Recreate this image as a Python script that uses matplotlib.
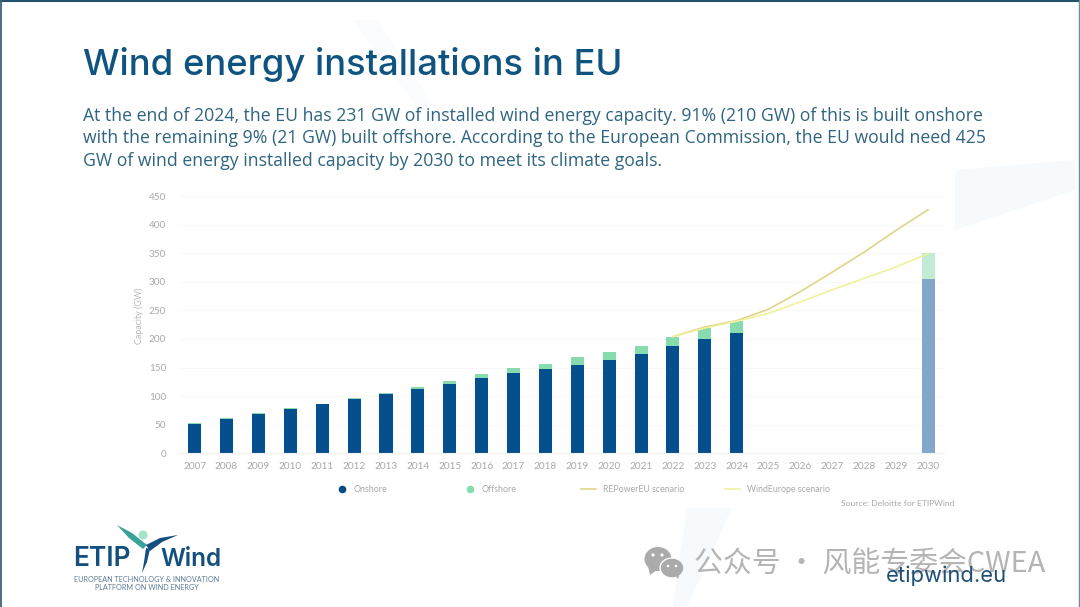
import matplotlib
matplotlib.use("Agg")
from matplotlib import pyplot as plt
from matplotlib.patches import Polygon, Circle, Ellipse
import numpy as np

years = [str(y) for y in range(2007, 2031)]
onshore = [52, 60, 69, 78, 86, 95, 103, 113, 121, 131, 140, 147, 155, 163, 174, 188, 200, 210]
offshore = [1, 1, 1, 1, 1, 1, 3, 3, 6, 7, 9, 10, 13, 15, 14, 16, 20, 21]
onshore_2030 = 305
offshore_2030 = 46
line_years = ["2022", "2023", "2024", "2025", "2026", "2027", "2028", "2029", "2030"]
repower = [204, 221, 232, 252, 283, 317, 352, 390, 426]
windeurope = [204, 219, 231, 245, 265, 286, 306, 326, 349]
yticks = [0, 50, 100, 150, 200, 250, 300, 350, 400, 450]

W, H = 1080, 607
DARK = "#054f8f"
GREEN = "#86dcae"
TEAL = "#2f6580"
GREY = "#a9a9a9"
LOGO = "#14507f"

def fx(px):
    return px / W

def fy(py):
    return 1 - py / H

fig = plt.figure(figsize=(10.8, 6.07), dpi=100, facecolor="white")
plt.rcParams["font.family"] = ["Lato", "DejaVu Sans"]

# slide background shapes
bg = fig.add_axes([0, 0, 1, 1], zorder=0)
bg.set_xlim(0, W)
bg.set_ylim(H, 0)
bg.axis("off")
bg.add_patch(Polygon([(353, 20), (378, 20), (475, 170), (430, 125)], color="#fafcfd", lw=0))
bg.add_patch(Polygon([(955, 170), (1075, 160), (1075, 190), (955, 230)], color="#f6fafc", lw=0))
bg.add_patch(Polygon([(687, 508), (732, 508), (687, 607), (673, 607)], color="#f6fafc", lw=0))
bg.plot([0, 1080], [0.5, 0.5], color="#27506b", lw=1.5)
bg.plot([0.5, 0.5], [0, 607], color="#3c6078", lw=1.3)
bg.plot([1078.7, 1078.7], [0, 607], color="#6f8c9c", lw=1.0)

# chart
ax = fig.add_axes([fx(178.7), fy(453.3), fx(944 - 178.7), (453.3 - 196) / H], zorder=1)
ax.patch.set_alpha(0)
x = np.arange(len(years))
n = len(onshore)
ax.bar(x[:n], onshore, width=0.41, color=DARK, zorder=2)
ax.bar(x[:n], offshore, bottom=onshore, width=0.41, color=GREEN, zorder=2)
ax.bar(x[-1], onshore_2030, width=0.41, color="#82a7cb", zorder=2)
ax.bar(x[-1], offshore_2030, bottom=onshore_2030, width=0.41, color="#c2ebd3", zorder=2)
lx = [years.index(y) for y in line_years]
ax.plot(lx, repower, color="#e0d488", lw=1.2, zorder=3)
ax.plot(lx, windeurope, color="#f0f19c", lw=1.2, zorder=3)

ax.set_xlim(-0.5, len(years) - 0.5)
ax.set_ylim(0, 450)
ax.set_xticks(x)
ax.set_xticklabels(years)
ax.set_yticks(yticks)
ax.tick_params(length=0, labelsize=7.2, labelcolor=GREY, pad=6)
ax.tick_params(axis="y", pad=9)
ax.grid(axis="y", color="#f8f8f8", lw=0.7)
ax.set_axisbelow(True)
for s in ax.spines.values():
    s.set_visible(False)
ax.spines["bottom"].set_visible(True)
ax.spines["bottom"].set_color("#f0f0f0")
bg.text(139, 316, "Capacity (GW)", fontsize=6.4, color="#b8b8b8", rotation=90, ha="center", va="center")

# legend drawn by hand, spaced like the slide
bg.plot([342], [489], "o", color="#0d4a80", ms=4.5)
bg.text(354, 489, "Onshore", fontsize=6.4, color=GREY, va="center")
bg.plot([470], [489], "o", color=GREEN, ms=4.5)
bg.text(482, 489, "Offshore", fontsize=6.4, color=GREY, va="center")
bg.plot([581, 596], [489, 489], color="#e0d488", lw=1.2)
bg.text(603, 489, "REPowerEU scenario", fontsize=6.3, color=GREY, va="center")
bg.plot([725, 740], [489, 489], color="#f0f19c", lw=1.2)
bg.text(747, 489, "WindEurope scenario", fontsize=6.3, color=GREY, va="center")
bg.text(954, 503, "Source: Deloitte for ETIPWind", fontsize=6.1, color=GREY, va="center", ha="right")

# title and body
bg.text(83, 64, "Wind energy installations in EU", fontsize=26.2, color="#0f5480", family="Inter",
        weight="medium", va="center")
body = [
    "At the end of 2024, the EU has 231 GW of installed wind energy capacity. 91% (210 GW) of this is built onshore",
    "with the remaining 9% (21 GW) built offshore. According to the European Commission, the EU would need 425",
    "GW of wind energy installed capacity by 2030 to meet its climate goals.",
]
for i, line in enumerate(body):
    bg.text(83, 116 + i * 22.4, line, fontsize=12.68, color=TEAL, family="Open Sans", va="center")

# logo
bg.add_patch(Polygon([(117, 525), (132, 533), (147, 545), (143, 549), (129, 538)], color="#3aa39a", lw=0))
bg.add_patch(Circle((143, 535), 4.5, color="#a5e3c4", lw=0))
bg.add_patch(Polygon([(146, 545), (160, 538), (178, 535), (162, 542), (150, 551)], color=LOGO, lw=0))
bg.add_patch(Polygon([(146, 548), (150, 549), (147, 562), (142, 573), (144, 562)], color=LOGO, lw=0))
bg.text(73, 559, "ETIP", fontsize=19, color=LOGO, family="Inter", weight="semibold", va="center")
bg.text(160, 559, "Wind", fontsize=17.5, color=LOGO, family="Inter", weight="semibold", va="center")
bg.text(147, 579, "EUROPEAN TECHNOLOGY & INNOVATION", fontsize=5.25, color="#5f7f95", ha="center", va="center")
bg.text(147, 587, "PLATFORM ON WIND ENERGY", fontsize=5.25, color="#5f7f95", ha="center", va="center")

# watermark and url
ICON = "#ababab"
bg.add_patch(Ellipse((658, 559), 27, 24, color=ICON, lw=0))
bg.add_patch(Polygon([(648, 566), (650, 575), (657, 570)], color=ICON, lw=0))
bg.add_patch(Ellipse((672, 568), 24, 20, color=ICON, ec="white", lw=1))
bg.add_patch(Polygon([(675, 575), (678, 579), (680, 572)], color=ICON, lw=0))
for ex, ey, er in [(653, 555, 1.6), (662, 555, 1.6), (668, 566, 1.3), (676, 566, 1.3)]:
    bg.add_patch(Circle((ex, ey), er, color="white", lw=0))
bg.text(694, 564, "公众号 · 风能专委会CWEA", fontsize=20.8, color="#b4b4b4",
        family=["Noto Sans CJK SC", "DejaVu Sans"], va="center")
bg.text(886, 576, "etipwind.eu", fontsize=15.8, color="#1f5078", family="Inter", va="center", zorder=5)

fig.savefig("out.png", dpi=100)
